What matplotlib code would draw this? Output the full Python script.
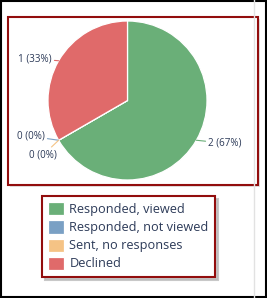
import numpy as np
import matplotlib.pyplot as plt
from matplotlib.patches import Rectangle

# chart data
categories = ['Responded, viewed', 'Responded, not viewed', 'Sent, no responses', 'Declined']
counts = [2, 0, 0, 1]
colors = ['#6aaf78', '#7aa0c4', '#f5c385', '#e06a6a']

# label placement (pixels from the slice edge), one per slice
label_offsets = [(12, -3), (-14, 4), (-2, -15), (-7, 2)]
label_align = ['left', 'right', 'right', 'right']

W, H = 267, 298
text_color = '#2c3a58'
frame_red = '#920d0d'

fig = plt.figure(figsize=(W / 100, H / 100), dpi=100)

# background decorations, drawn in pixel coords
ov = fig.add_axes([0, 0, 1, 1], zorder=0)
ov.set_xlim(0, W)
ov.set_ylim(H, 0)
ov.axis('off')
ov.plot([253.5, 253.5], [0, H], color='#e2e2e2', lw=1)
ov.add_patch(Rectangle((10, 19), 250, 168, facecolor='#d8d8d8', edgecolor='none', alpha=0.7))
ov.add_patch(Rectangle((8, 17), 250, 168, facecolor='white', edgecolor=frame_red, lw=1.5))
ov.add_patch(Rectangle((1, 1), W - 2, H - 2, facecolor='none', edgecolor='black', lw=1.5))

# pie: centre (127.5, 100.5) px, radius 79.5 px
cx, cy, r = 127.5, 100.5, 79.5
half = 100
ax = fig.add_axes([(cx - half) / W, (H - cy - half) / H, 2 * half / W, 2 * half / H], zorder=1)
ax.patch.set_alpha(0)
wedges, _ = ax.pie(counts, colors=colors, startangle=90, counterclock=False,
                   wedgeprops=dict(edgecolor='white', linewidth=0.9))
lim = half / r
ax.set_xlim(-lim, lim)
ax.set_ylim(-lim, lim)
ax.set_aspect('equal')

total = sum(counts)
for w, v, c, off, ha in zip(wedges, counts, colors, label_offsets, label_align):
    mid = np.deg2rad((w.theta1 + w.theta2) / 2)
    x, y = np.cos(mid), np.sin(mid)
    ax.annotate(f'{v} ({v / total * 100:.0f}%)', xy=(x, y), xytext=off,
                textcoords='offset pixels', ha=ha, va='center',
                fontsize=7.1, family='Open Sans', color=text_color,
                arrowprops=dict(arrowstyle='-', color=c, lw=0.8,
                                shrinkA=0, shrinkB=0), annotation_clip=False)

leg = fig.legend(wedges, categories, loc='upper left',
                 bbox_to_anchor=(42 / W, 1 - 196 / H), borderaxespad=0,
                 prop={'family': 'Open Sans', 'size': 9.2},
                 handlelength=1.2, handleheight=1.2, handletextpad=0.45,
                 labelspacing=0.33, borderpad=0.5, fancybox=False,
                 shadow={'color': '#bbbbbb', 'alpha': 0.8})
for t in leg.get_texts():
    t.set_color(text_color)
leg.get_frame().set_edgecolor(frame_red)
leg.get_frame().set_linewidth(1.5)

fig.savefig('out.png', dpi=100)
